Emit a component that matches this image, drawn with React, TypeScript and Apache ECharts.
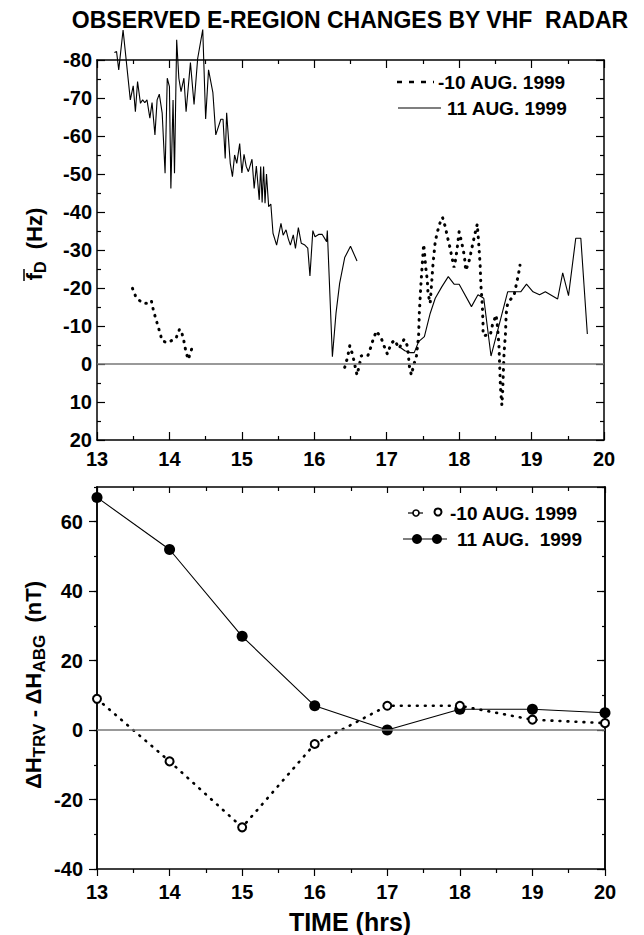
import React, { useEffect, useRef } from "react";
import * as echarts from "echarts";

// ---- Top panel: mean Doppler frequency (Hz) ----
const aug11SegATime = [13.24, 13.27, 13.30, 13.36, 13.46, 13.50, 13.53, 13.56, 13.60, 13.63, 13.66, 13.69, 13.73, 13.76, 13.80, 13.83, 13.86, 13.90, 13.94, 13.97, 14.00, 14.02, 14.05, 14.07, 14.10, 14.13, 14.16, 14.20, 14.23, 14.29, 14.34, 14.39, 14.46, 14.50, 14.54, 14.60, 14.64, 14.71, 14.74, 14.77, 14.79, 14.84, 14.87, 14.90, 14.93, 14.97, 15.00, 15.03, 15.06, 15.09, 15.14, 15.17, 15.20, 15.24, 15.26, 15.28, 15.30, 15.32, 15.34, 15.37, 15.40, 15.43, 15.48, 15.54, 15.57, 15.61, 15.64, 15.67, 15.71, 15.74, 15.78, 15.82, 15.87, 15.91, 15.94, 15.98, 16.01, 16.06, 16.11, 16.17, 16.18, 16.25, 16.30, 16.35, 16.42, 16.50, 16.59];
const aug11SegAFd = [-82, -82.2, -77.4, -87.9, -69.5, -73.2, -66.4, -74.3, -68.6, -69.5, -68.8, -69.5, -64.7, -68.8, -60.3, -69.5, -71, -66, -50.2, -75.2, -73, -46.2, -69.5, -50.2, -85.3, -75.2, -71.7, -75.2, -66.4, -79.3, -68.3, -80.4, -88, -64.5, -77.4, -71.4, -60.3, -64.4, -64.4, -54.1, -66.1, -52.8, -49.3, -55, -52.8, -58, -50.3, -55.2, -52, -50.6, -53.9, -46.2, -52.1, -43.2, -52, -42.5, -52, -42.3, -50, -41.4, -42.1, -34.4, -31.3, -37, -33.9, -35.3, -33, -31.3, -34, -30.4, -35.9, -31.8, -31.3, -30.5, -23.2, -35.1, -33.5, -34.1, -34.1, -32.2, -35.1, -1.9, -13.4, -21.2, -28, -31, -27.1];
const aug11SegBTime = [17.17, 17.25, 17.32, 17.38, 17.44, 17.52, 17.60, 17.67, 17.76, 17.85, 17.93, 18.00, 18.17, 18.26, 18.34, 18.44, 18.67, 18.85, 18.93, 19.02, 19.11, 19.19, 19.36, 19.43, 19.51, 19.61, 19.68, 19.77];
const aug11SegBFd = [-4.6, -3.5, -3, -3, -5.9, -7.2, -13.3, -17.3, -20.3, -23, -21, -21, -15.1, -18.2, -17.3, -2.1, -19, -19, -21, -19, -18.2, -19, -17.1, -24, -18, -33.1, -33.1, -7.9];
const aug10SegATime = [13.49, 13.54, 13.63, 13.69, 13.75, 13.78, 13.82, 13.86, 13.90, 13.97, 14.09, 14.14, 14.17, 14.20, 14.23, 14.26, 14.31];
const aug10SegAFd = [-19.9, -17.5, -16, -16, -16.7, -14, -11.4, -8.8, -6.1, -5.6, -6.7, -9.2, -8.3, -6, -3, -1.2, -4.1];
const aug10SegBTime = [16.42, 16.46, 16.49, 16.53, 16.56, 16.59, 16.62, 16.65, 16.74, 16.78, 16.82, 16.86, 16.93, 16.98, 17.01, 17.06, 17.11, 17.17, 17.24, 17.28, 17.30, 17.31, 17.34, 17.37, 17.41, 17.44, 17.45, 17.47, 17.49, 17.51, 17.52, 17.54, 17.56, 17.57, 17.60, 17.62, 17.64, 17.67, 17.70, 17.74, 17.77, 17.81, 17.84, 17.87, 17.90, 17.93, 17.95, 17.97, 18.00, 18.03, 18.06, 18.08, 18.09, 18.13, 18.16, 18.19, 18.22, 18.25, 18.27, 18.29, 18.30, 18.32, 18.33, 18.33, 18.43, 18.46, 18.51, 18.53, 18.55, 18.56, 18.57, 18.58, 18.59, 18.60, 18.61, 18.62, 18.64, 18.65, 18.67, 18.76, 18.79, 18.82, 18.84];
const aug10SegBFd = [0.9, -1.8, -4.8, -2.4, 0.3, 2.9, 0.5, -2.2, -2.2, -4.4, -6.9, -8.7, -6.5, -3.9, -2.6, -5.4, -6.3, -4.1, -6.5, -5, -2.4, 0.3, 2.9, 0.5, -2.1, -7.2, -13.3, -20.3, -26, -31.5, -29.6, -25.2, -22.1, -18.6, -16, -21.2, -26.5, -32.2, -34.8, -37.4, -38.6, -36, -33.3, -30.9, -28.1, -25.4, -27.4, -30, -34.8, -32.4, -29.7, -27.1, -24.6, -26.5, -29.1, -31.8, -34.4, -36.8, -31.8, -26, -20.8, -15.5, -10.3, -7.5, -7.6, -10.3, -12.9, -9.8, -4.6, 0.7, 6, 8.6, 10.8, 7.7, 2.4, -2.8, -8.1, -13.3, -16, -18.2, -21, -23.7, -26];

// ---- Bottom panel: Delta H difference (nT) ----
const hourTicks = [13, 14, 15, 16, 17, 18, 19, 20];
const aug10DeltaH = [9, -9, -28, -4, 7, 7, 3, 2];
const aug11DeltaH = [67, 52, 27, 7, 0, 6, 6, 5];

const FONT = "'Liberation Sans', Arial, Helvetica, sans-serif";

function pairs(t: number[], v: number[]) {
  return t.map((x, i) => [x, v[i]]);
}

export default function App() {
  const ref = useRef<HTMLDivElement>(null);
  useEffect(() => {
    if (!ref.current) return;
    const chart = echarts.init(ref.current, undefined, { renderer: "svg" });
    const lbl = { color: "#000", fontSize: 20, fontWeight: "bold", fontFamily: FONT };
    const axLine = { show: true, onZero: false, lineStyle: { color: "#000", width: 1.5 } };
    const tickStyle = { color: "#000", width: 1.2 };

    const xBase = (grid: number, pos: string, inside: boolean, len: number, mlen: number, showLabel: boolean, margin: number) => ({
      type: "value", gridIndex: grid, position: pos, min: 13, max: 20, interval: 1,
      axisLine: axLine,
      axisTick: { show: true, inside, length: len, lineStyle: tickStyle },
      minorTick: { show: true, splitNumber: 2, length: mlen, lineStyle: tickStyle },
      axisLabel: showLabel ? { ...lbl, margin } : { show: false },
      splitLine: { show: false },
      minorSplitLine: { show: false },
    });

    const yTop = (pos: string, showLabel: boolean) => ({
      type: "value", gridIndex: 0, position: pos, min: -80, max: 20, interval: 10, inverse: true,
      axisLine: axLine,
      axisTick: { show: true, inside: true, length: 8, lineStyle: tickStyle },
      minorTick: { show: true, splitNumber: 2, length: 4, lineStyle: tickStyle },
      axisLabel: showLabel ? { ...lbl, margin: 5 } : { show: false },
      splitLine: { show: false },
    });

    const yBot = (pos: string, interval: number, inside: boolean, len: number, showLabel: boolean) => ({
      type: "value", gridIndex: 1, position: pos, min: -40, max: 70, interval,
      axisLine: axLine,
      axisTick: { show: true, inside, length: len, lineStyle: tickStyle },
      minorTick: { show: false },
      axisLabel: showLabel ? { ...lbl, margin: 14, showMaxLabel: false } : { show: false },
      splitLine: { show: false },
    });

    const zeroLine = {
      silent: true, symbol: ["none", "none"], label: { show: false },
      lineStyle: { color: "#777", width: 1.5, type: "solid" },
      emphasis: { disabled: true },
      data: [{ yAxis: 0 }],
    };

    const dotTop = { color: "#000", width: 3, type: [0.6, 6.6], cap: "round" };
    const dotBot = { color: "#000", width: 2.6, type: [0.8, 7.2], cap: "round" };

    const option: any = {
      animation: false,
      backgroundColor: "#fff",
      grid: [
        { left: 97, right: 40, top: 60, height: 380, containLabel: false },
        { left: 97, right: 39, top: 487, height: 382, containLabel: false },
      ],
      xAxis: [
        xBase(0, "bottom", true, 8, 4, true, 9),
        xBase(0, "top", true, 8, 4, false, 0),
        xBase(1, "bottom", false, 7, 4, true, 13),
        xBase(1, "top", true, 6, 4, false, 0),
      ],
      yAxis: [
        yTop("left", true),
        yTop("right", false),
        yBot("left", 20, false, 8, true),
        yBot("left", 10, false, 3, false),
        yBot("right", 20, true, 8, false),
        yBot("right", 10, true, 3, false),
      ],
      series: [
        {
          name: "11 AUG. 1999 a", type: "line", xAxisIndex: 0, yAxisIndex: 0,
          data: pairs(aug11SegATime, aug11SegAFd), showSymbol: false, clip: false,
          lineStyle: { color: "#000", width: 1.1 }, markLine: zeroLine,
        },
        {
          name: "11 AUG. 1999 b", type: "line", xAxisIndex: 0, yAxisIndex: 0,
          data: pairs(aug11SegBTime, aug11SegBFd), showSymbol: false, clip: false,
          lineStyle: { color: "#000", width: 1.1 },
        },
        {
          name: "-10 AUG. 1999 a", type: "line", xAxisIndex: 0, yAxisIndex: 0,
          data: pairs(aug10SegATime, aug10SegAFd), showSymbol: false, clip: false,
          lineStyle: dotTop,
        },
        {
          name: "-10 AUG. 1999 b", type: "line", xAxisIndex: 0, yAxisIndex: 0,
          data: pairs(aug10SegBTime, aug10SegBFd), showSymbol: false, clip: false,
          lineStyle: dotTop,
        },
        {
          name: "11 AUG. 1999", type: "line", xAxisIndex: 2, yAxisIndex: 2,
          data: pairs(hourTicks, aug11DeltaH), clip: false,
          symbol: "circle", symbolSize: 11,
          itemStyle: { color: "#000", borderColor: "#000", borderWidth: 0 },
          lineStyle: { color: "#000", width: 1.1 },
          markLine: zeroLine,
        },
        {
          name: "-10 AUG. 1999", type: "line", xAxisIndex: 2, yAxisIndex: 2,
          data: pairs(hourTicks, aug10DeltaH), clip: false,
          symbol: "circle", symbolSize: 8,
          itemStyle: { color: "#fff", borderColor: "#000", borderWidth: 2 },
          lineStyle: dotBot,
        },
      ],
      graphic: [
        {
          type: "text", x: 350, y: 20,
          style: { text: "OBSERVED E-REGION CHANGES BY VHF  RADAR", fill: "#000", font: `bold 23px ${FONT}`, align: "center", verticalAlign: "middle" },
        },
        // top legend
        { type: "line", shape: { x1: 397, y1: 82, x2: 434, y2: 82 }, style: { stroke: "#000", lineWidth: 2.5, lineDash: [5, 7] } },
        { type: "text", x: 438, y: 82, style: { text: "-10 AUG. 1999", fill: "#000", font: `bold 19px ${FONT}`, align: "left", verticalAlign: "middle" } },
        { type: "line", shape: { x1: 398, y1: 108, x2: 441, y2: 108 }, style: { stroke: "#000", lineWidth: 1.2 } },
        { type: "text", x: 447, y: 108, style: { text: "11 AUG. 1999", fill: "#000", font: `bold 19px ${FONT}`, align: "left", verticalAlign: "middle" } },
        // bottom legend
        { type: "line", shape: { x1: 408, y1: 513, x2: 423, y2: 513 }, style: { stroke: "#000", lineWidth: 1.2 } },
        { type: "circle", shape: { cx: 416, cy: 513, r: 3 }, style: { fill: "#fff", stroke: "#000", lineWidth: 1.6 } },
        { type: "circle", shape: { cx: 438, cy: 512, r: 3.5 }, style: { fill: "#fff", stroke: "#000", lineWidth: 2 } },
        { type: "text", x: 450, y: 513, style: { text: "-10 AUG. 1999", fill: "#000", font: `bold 19px ${FONT}`, align: "left", verticalAlign: "middle" } },
        { type: "line", shape: { x1: 403, y1: 539, x2: 447, y2: 539 }, style: { stroke: "#000", lineWidth: 1.2 } },
        { type: "circle", shape: { cx: 417, cy: 539, r: 5 }, style: { fill: "#000" } },
        { type: "circle", shape: { cx: 437, cy: 539, r: 5 }, style: { fill: "#000" } },
        { type: "text", x: 457, y: 539, style: { text: "11 AUG.  1999", fill: "#000", font: `bold 19px ${FONT}`, align: "left", verticalAlign: "middle" } },
        // y titles
        {
          type: "text", x: 34, y: 244, rotation: Math.PI / 2,
          style: {
            text: "{m|f}{s|D}{m|  (Hz)}", align: "center", verticalAlign: "middle",
            rich: {
              m: { fill: "#000", fontSize: 22, fontWeight: "bold", fontFamily: FONT },
              s: { fill: "#000", fontSize: 16, fontWeight: "bold", fontFamily: FONT, padding: [12, 0, 0, 0] },
            },
          },
        },
        { type: "line", shape: { x1: 24, y1: 269, x2: 24, y2: 281 }, style: { stroke: "#000", lineWidth: 1.5 } },
        {
          type: "text", x: 33, y: 685, rotation: Math.PI / 2,
          style: {
            text: "{m|ΔH}{s|TRV}{m| - ΔH}{s|ABG}{m|  (nT)}", align: "center", verticalAlign: "middle",
            rich: {
              m: { fill: "#000", fontSize: 22, fontWeight: "bold", fontFamily: FONT },
              s: { fill: "#000", fontSize: 17, fontWeight: "bold", fontFamily: FONT, padding: [12, 0, 0, 0] },
            },
          },
        },
        {
          type: "text", x: 350, y: 922,
          style: { text: "TIME (hrs)", fill: "#000", font: `bold 25px ${FONT}`, align: "center", verticalAlign: "middle" },
        },
      ],
    };
    chart.setOption(option);
    return () => chart.dispose();
  }, []);
  return <div ref={ref} style={{ position: "fixed", left: 0, top: 0, width: 644, height: 935, background: "#fff" }} />;
}
